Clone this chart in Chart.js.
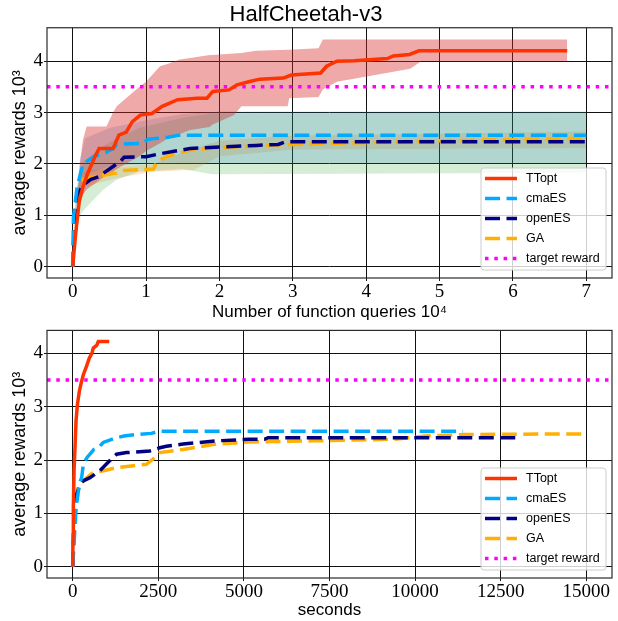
<!DOCTYPE html>
<html><head><meta charset="utf-8">
<script src="https://cdn.jsdelivr.net/npm/chart.js@4/dist/chart.umd.min.js"></script>
<style>
html,body{margin:0;padding:0;background:#fff;width:618px;height:621px;overflow:hidden}
canvas{position:absolute;left:0}
#c1{top:0}
#c2{top:318px}
</style></head><body>
<canvas id="c1" width="618" height="326"></canvas>
<canvas id="c2" width="618" height="303"></canvas>
<script>
// ---------- labels ----------
const chartTitle = 'HalfCheetah-v3';
const xTitleTop = 'Number of function queries 10\u2074';
const xTitleBottom = 'seconds';
const yTitle = 'average rewards 10\u00B3';
const seriesNames = ['TTopt', 'cmaES', 'openES', 'GA', 'target reward'];
const targetReward = 3.5;

// ---------- ticks / axis ranges ----------
const xTicksTop = [0, 1, 2, 3, 4, 5, 6, 7];
const xTicksBottom = [0, 2500, 5000, 7500, 10000, 12500, 15000];
const yTicks = [0, 1, 2, 3, 4];
const xRangeTop = [-0.35, 7.35];
const xRangeBottom = [-750, 15750];
const yRangeTop = [-0.22, 4.65];
const yRangeBottom = [-0.21, 4.43];

// ---------- top panel: function queries (x 10^4) ----------
const ttoptQx = [0,0.04,0.09,0.14,0.2,0.3,0.36,0.55,0.63,0.73,0.81,0.92,1.08,1.22,1.43,1.7,1.83,1.91,2.13,2.24,2.4,2.55,2.87,2.98,3.38,3.46,3.6,3.84,4.29,4.37,4.59,4.72,6.74];
const ttoptQy = [0,0.63,1.28,1.55,1.8,2.13,2.3,2.3,2.56,2.62,2.82,2.95,2.98,3.12,3.25,3.28,3.28,3.41,3.44,3.54,3.6,3.65,3.67,3.73,3.77,3.9,4.0,4.01,4.05,4.1,4.13,4.2,4.2];
const cmaQx = [0,0.01,0.06,0.14,0.3,0.45,0.55,0.6,0.95,1.03,1.3,1.45,7.0];
const cmaQy = [0,0.95,1.55,2.0,2.15,2.22,2.3,2.38,2.4,2.48,2.52,2.56,2.56];
const openQx = [0,0.02,0.06,0.15,0.25,0.35,0.45,0.55,0.65,0.7,1.0,1.2,1.4,1.6,2.0,2.5,2.8,2.9,7.0];
const openQy = [0,0.8,1.4,1.6,1.7,1.75,1.85,1.95,2.05,2.13,2.14,2.2,2.25,2.3,2.33,2.36,2.38,2.43,2.43];
const gaQx = [0,0.05,0.15,0.3,0.6,0.7,1.1,1.15,1.3,1.6,2.0,3.0,5.0,7.0];
const gaQy = [0,1.3,1.7,1.75,1.82,1.87,1.9,2.05,2.15,2.27,2.32,2.38,2.45,2.5];

// spread bands (top panel)
const ttBandX  = [0.03,0.08,0.1,0.14,0.19,0.46,0.55,0.6,0.91,1.0,1.19,1.3,1.46,1.6,1.87,1.9,2.2,2.3,2.5,2.93,2.95,3.35,3.41,3.6,4.2,4.6,4.75,6.74];
const ttBandHi = [0.6,1.6,2.02,2.47,2.73,2.73,3.0,3.12,3.5,3.6,3.9,3.95,4.03,4.06,4.12,4.12,4.15,4.16,4.2,4.22,4.22,4.25,4.42,4.42,4.42,4.42,4.42,4.42];
const ttBandLo = [0.4,1.0,1.2,1.4,1.5,1.78,1.85,1.9,2.15,2.25,2.4,2.5,2.58,2.66,2.72,2.76,2.95,3.12,3.12,3.12,3.28,3.3,3.45,3.6,3.75,3.85,4.0,4.0];
const cmaBandX  = [0.02,0.1,0.17,0.5,1.0,1.5,2.0,7.0];
const cmaBandHi = [1.0,2.1,2.5,2.7,2.85,2.97,3.02,3.02];
const cmaBandLo = [0.8,1.5,1.8,1.95,2.0,2.02,2.02,2.02];
const openBandX  = [0.02,0.1,0.15,0.28,0.42,0.6,0.9,1.5,1.9,7.0];
const openBandHi = [1.0,1.9,2.05,2.2,2.35,2.5,2.7,2.9,2.98,3.0];
const openBandLo = [0.7,1.0,1.1,1.3,1.5,1.69,1.85,1.9,1.8,1.83];
const gaBandX  = [0.05,0.15,0.4,0.7,1.1,1.65,2.0,3.0,7.0];
const gaBandHi = [1.5,1.85,1.9,1.95,2.0,2.3,2.45,2.55,2.63];
const gaBandLo = [1.2,1.55,1.65,1.75,1.85,1.88,2.15,2.28,2.31];

// ---------- bottom panel: seconds ----------
const ttoptSx = [0,10,19,40,68,97,140,194,250,311,400,485,560,602,700,748,1068];
const ttoptSy = [0,0.6,1.12,1.8,2.23,2.73,3.05,3.29,3.45,3.6,3.75,3.91,4.0,4.1,4.15,4.22,4.22];
const cmaSx = [0,100,195,262,311,420,504,620,746,892,1100,1281,1500,1864,2300,2505,11400];
const cmaSy = [0,1.1,1.56,1.67,1.92,2.05,2.11,2.2,2.23,2.33,2.38,2.42,2.45,2.48,2.5,2.54,2.54];
const openSx = [0,50,116,200,309,504,795,1087,1281,1573,2250,2543,2738,3222,4194,5165,5600,5707,12950];
const openSy = [0,1.0,1.37,1.5,1.61,1.67,1.8,1.99,2.11,2.14,2.17,2.23,2.26,2.3,2.36,2.39,2.39,2.42,2.42];
const gaSx = [0,60,150,309,601,900,1281,2154,2349,2543,3222,4194,5165,7000,9380,10298,11446,14890];
const gaSy = [0,1.05,1.5,1.61,1.77,1.8,1.86,1.92,2.02,2.14,2.2,2.3,2.34,2.36,2.39,2.45,2.48,2.49];

// ---------- styles ----------
const lineStyles = [
  {color:'#ff3300', dash:[]},
  {color:'#00aaff', dash:[15,6.5]},
  {color:'#000080', dash:[15,6.5]},
  {color:'#ffb000', dash:[15,6.5]},
  {color:'#ff00ff', dash:[3.5,5.8]}
];
const bandColors = ['rgba(214,39,40,0.4)','rgba(31,119,180,0.2)','rgba(44,160,44,0.2)','rgba(255,127,14,0.2)'];
const SANS = '"Liberation Sans", Arial, sans-serif';
const SERIF = '"Liberation Serif", "DejaVu Serif", serif';

function zip(xs, ys){ return xs.map((x,i)=>({x:x, y:ys[i]})); }
function lineDs(xs, ys, i){
  return {data: zip(xs, ys), borderColor: lineStyles[i].color, borderDash: lineStyles[i].dash,
    borderWidth: 3.5, pointRadius: 0, fill: false, tension: 0, borderCapStyle: 'butt', borderJoinStyle:'miter'};
}
function bandDs(xs, hi, lo, i){
  return [
    {data: zip(xs, hi), borderWidth: 0, borderColor:'rgba(0,0,0,0)', pointRadius: 0, fill: '+1', backgroundColor: bandColors[i], tension: 0},
    {data: zip(xs, lo), borderWidth: 0, borderColor:'rgba(0,0,0,0)', pointRadius: 0, fill: false, tension: 0}
  ];
}

const boxLegend = {
  id: 'boxLegend',
  afterDraw(chart) {
    const {ctx, chartArea: a} = chart;
    ctx.save();
    ctx.setLineDash([]);
    ctx.strokeStyle = '#2a2a2a'; ctx.lineWidth = 1.2;
    ctx.strokeRect(a.left, a.top, a.right - a.left, a.bottom - a.top);
    const w = 125, h = 102;
    const x0 = a.right - 6 - w, y0 = a.bottom - 8 - h, r = 3;
    ctx.beginPath();
    ctx.moveTo(x0 + r, y0); ctx.lineTo(x0 + w - r, y0); ctx.arcTo(x0 + w, y0, x0 + w, y0 + r, r);
    ctx.lineTo(x0 + w, y0 + h - r); ctx.arcTo(x0 + w, y0 + h, x0 + w - r, y0 + h, r);
    ctx.lineTo(x0 + r, y0 + h); ctx.arcTo(x0, y0 + h, x0, y0 + h - r, r);
    ctx.lineTo(x0, y0 + r); ctx.arcTo(x0, y0, x0 + r, y0, r); ctx.closePath();
    ctx.fillStyle = 'rgba(255,255,255,0.8)'; ctx.fill();
    ctx.strokeStyle = '#cccccc'; ctx.lineWidth = 1; ctx.stroke();
    seriesNames.forEach((name, i) => {
      const y = y0 + 10.5 + i * 20;
      ctx.beginPath();
      ctx.setLineDash(lineStyles[i].dash);
      ctx.lineCap = 'butt';
      ctx.lineWidth = 3.5; ctx.strokeStyle = lineStyles[i].color;
      ctx.moveTo(x0 + 4, y); ctx.lineTo(x0 + 36, y); ctx.stroke();
      ctx.setLineDash([]);
      ctx.fillStyle = '#000'; ctx.font = '12.5px ' + SANS;
      ctx.textBaseline = 'middle'; ctx.textAlign = 'left';
      ctx.fillText(name, x0 + 45, y);
    });
    ctx.restore();
  }
};

function makeChart(id, datasets, xr, yr, xt, xTitle, xTitlePad, xHeight, title, padTop) {
  return new Chart(document.getElementById(id), {
    type: 'line',
    data: {datasets: datasets},
    plugins: [boxLegend],
    options: {
      responsive: false, animation: false, devicePixelRatio: 1,
      layout: {padding: {left: 0, right: 6, top: padTop, bottom: 0}},
      plugins: {
        legend: {display: false}, tooltip: {enabled: false},
        filler: {drawTime: 'beforeDatasetsDraw'},
        title: title ? {display: true, text: title, color: '#000',
          font: {family: SANS, size: 22, weight: 'normal', lineHeight: 1.17}, padding: {top: 2, bottom: 0}} : {display: false}
      },
      scales: {
        x: {type: 'linear', min: xr[0], max: xr[1],
          afterBuildTicks: s => { s.ticks = xt.map(v => ({value: v})); },
          afterFit: s => { s.height = xHeight; },
          grid: {color: '#111', lineWidth: 1, drawTicks: true, tickLength: 3, tickColor: '#111'},
          border: {display: false},
          ticks: {color: '#000', font: {family: SERIF, size: 19}, padding: 0, maxRotation: 0, autoSkip: false,
            callback: v => String(v)},
          title: {display: true, text: xTitle, color: '#000', font: {family: SANS, size: 17}, padding: {top: 0, bottom: xTitlePad}}
        },
        y: {type: 'linear', min: yr[0], max: yr[1],
          afterBuildTicks: s => { s.ticks = yTicks.map(v => ({value: v})); },
          afterFit: s => { s.width = 47; },
          grid: {color: '#111', lineWidth: 1, drawTicks: true, tickLength: 3, tickColor: '#111'},
          border: {display: false},
          ticks: {color: '#000', font: {family: SERIF, size: 19}, padding: 1, callback: v => String(v)},
          title: {display: true, text: yTitle, color: '#000', font: {family: SANS, size: 18}, padding: {top: 9, bottom: 0}}
        }
      }
    }
  });
}

const topDatasets = [
  lineDs(ttoptQx, ttoptQy, 0),
  lineDs(cmaQx, cmaQy, 1),
  lineDs(openQx, openQy, 2),
  lineDs(gaQx, gaQy, 3),
  lineDs(xRangeTop, [targetReward, targetReward], 4),
  ...bandDs(ttBandX, ttBandHi, ttBandLo, 0),
  ...bandDs(cmaBandX, cmaBandHi, cmaBandLo, 1),
  ...bandDs(openBandX, openBandHi, openBandLo, 2),
  ...bandDs(gaBandX, gaBandHi, gaBandLo, 3)
];
const bottomDatasets = [
  lineDs(ttoptSx, ttoptSy, 0),
  lineDs(cmaSx, cmaSy, 1),
  lineDs(openSx, openSy, 2),
  lineDs(gaSx, gaSy, 3),
  lineDs(xRangeBottom, [targetReward, targetReward], 4)
];

makeChart('c1', topDatasets, xRangeTop, yRangeTop, xTicksTop, xTitleTop, 3, 48, chartTitle, 0);
makeChart('c2', bottomDatasets, xRangeBottom, yRangeBottom, xTicksBottom, xTitleBottom, 0, 43, null, 10);
</script></body></html>
